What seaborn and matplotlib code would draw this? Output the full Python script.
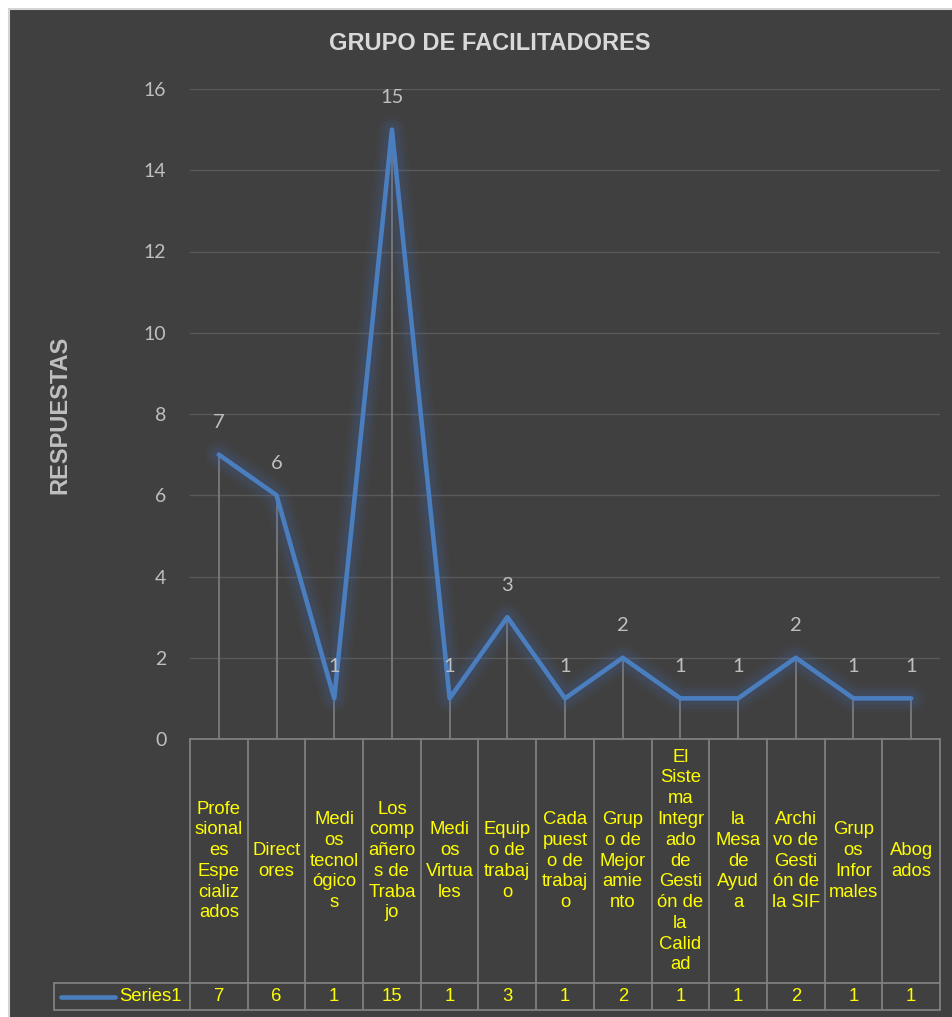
import numpy as np
import pandas as pd
import matplotlib
matplotlib.use("Agg")
import matplotlib.pyplot as plt
import matplotlib.patheffects as pe
from matplotlib.patches import Rectangle
from matplotlib.lines import Line2D
import seaborn as sns

# ---------------- data ----------------
categories = [
    "Profesionales Especializados", "Directores", "Medios tecnológicos",
    "Los compañeros de Trabajo", "Medios Virtuales", "Equipo de trabajo",
    "Cada puesto de trabajo", "Grupo de Mejoramiento",
    "El Sistema Integrado de Gestión de la Calidad", "la Mesa de Ayuda",
    "Archivo de Gestión de la SIF", "Grupos Informales", "Abogados",
]
wrapped_labels = [
    "Profe\nsional\nes\nEspe\ncializ\nados",
    "Direct\nores",
    "Medi\nos\ntecnol\nógico\ns",
    "Los\ncomp\nañero\ns de\nTraba\njo",
    "Medi\nos\nVirtua\nles",
    "Equip\no de\ntrabaj\no",
    "Cada\npuest\no de\ntrabaj\no",
    "Grup\no de\nMejor\namie\nnto",
    "El\nSiste\nma\nIntegr\nado\nde\nGesti\nón de\nla\nCalid\nad",
    "la\nMesa\nde\nAyud\na",
    "Archi\nvo de\nGesti\nón de\nla SIF",
    "Grup\nos\nInfor\nmales",
    "Abog\nados",
]
values = [7, 6, 1, 15, 1, 3, 1, 2, 1, 1, 2, 1, 1]
series_name = "Series1"
y_ticks = [0, 2, 4, 6, 8, 10, 12, 14, 16]
title = "GRUPO DE FACILITADORES"
y_label = "RESPUESTAS"

# ---------------- style ----------------
BG = "#404040"
GRID = "#595959"
TABLE = "#808080"
LINE = "#4a7ebf"
YELLOW = "#ffff00"
GRAY_TXT = "#bfbfbf"

sns.set_theme(style="dark", rc={"axes.facecolor": BG, "figure.facecolor": "white"})
plt.rcParams["font.family"] = ["Liberation Sans", "DejaVu Sans"]

W, H = 953, 1017
fig = plt.figure(figsize=(W / 100, H / 100), dpi=100)
fig.patches.append(Rectangle((9 / W, -0.05), 1.1, 1.05 - 9 / H, transform=fig.transFigure,
                             facecolor=BG, edgecolor="#d4d4d4", lw=1.5, zorder=-10))

x0, x1 = 190, 940
ytop, ybot = 89, 739
ax = fig.add_axes([x0 / W, 1 - ybot / H, (x1 - x0) / W, (ybot - ytop) / H])
ax.set_facecolor(BG)
for s in ax.spines.values():
    s.set_visible(False)

n = len(categories)
df = pd.DataFrame({"pos": np.arange(n), "value": values, "category": categories})

# gridlines
ax.set_ylim(0, 16)
ax.set_xlim(-0.5, n - 0.5)
ax.set_yticks(y_ticks)
ax.yaxis.grid(True, color=GRID, lw=1.0)
ax.xaxis.grid(False)
ax.set_axisbelow(True)

# drop lines
ax.vlines(df["pos"], 0, df["value"], color=TABLE, lw=1.2, zorder=2)

# line with glow
sns.lineplot(data=df, x="pos", y="value", color=LINE, lw=3.3, ax=ax, zorder=4,
             sort=False, legend=False)
ln = ax.lines[-1]
ln.set_solid_joinstyle("round")
ln.set_solid_capstyle("round")
ln.set_path_effects([
    pe.Stroke(linewidth=20, foreground="#4472c4", alpha=0.05),
    pe.Stroke(linewidth=15, foreground="#4472c4", alpha=0.07),
    pe.Stroke(linewidth=10, foreground="#4472c4", alpha=0.10),
    pe.Normal(),
])

# data labels
for p, v in zip(df["pos"], df["value"]):
    ax.annotate(str(v), (p, v), xytext=(0, 23), textcoords="offset points",
                ha="center", va="center", color=GRAY_TXT, fontsize=14.5,
                family=["Lato", "DejaVu Sans"], zorder=5)

ax.set_xticks([])
ax.set_xlabel("")
ax.set_ylabel("")
ax.tick_params(axis="y", length=0, pad=17, labelsize=14, labelcolor=GRAY_TXT)
for t in ax.get_yticklabels():
    t.set_family(["Lato", "DejaVu Sans"])

# ---------------- data table ----------------
axh = ybot - ytop
def ay(py):
    return (ybot - py) / axh
def axx(px):
    return (px - x0) / (x1 - x0)

y_cat_bot = ay(983)
y_val_bot = ay(1010)
legend_left = axx(54)
lk = dict(transform=ax.transAxes, color=TABLE, lw=1.3, clip_on=False, zorder=3)
ax.add_line(Line2D([0, 1], [0, 0], **lk))
ax.add_line(Line2D([legend_left, 1], [y_cat_bot, y_cat_bot], **lk))
ax.add_line(Line2D([legend_left, 1], [y_val_bot, y_val_bot], **lk))
ax.add_line(Line2D([legend_left, legend_left], [y_cat_bot, y_val_bot], **lk))
bt = ax.get_xaxis_transform()
for k in range(n + 1):
    ax.add_line(Line2D([k - 0.5, k - 0.5], [0, y_val_bot], transform=bt, color=TABLE,
                       lw=1.3, clip_on=False, zorder=3))

y_cat_mid = (0 + y_cat_bot) / 2
y_val_mid = (y_cat_bot + y_val_bot) / 2
for p, lab, v in zip(df["pos"], wrapped_labels, df["value"]):
    ax.text(p, y_cat_mid, lab, transform=bt, ha="center", va="center", color=YELLOW,
            fontsize=13.3, linespacing=1.29, clip_on=False)
    ax.text(p, y_val_mid, str(v), transform=bt, ha="center", va="center", color=YELLOW,
            fontsize=13.3, clip_on=False)

# legend key in table
ax.add_line(Line2D([axx(61), axx(115)], [y_val_mid, y_val_mid], transform=ax.transAxes,
                   color=LINE, lw=3.3, clip_on=False, solid_capstyle="round"))
ax.text(axx(119), y_val_mid, series_name, transform=ax.transAxes, ha="left", va="center",
        color=YELLOW, fontsize=13.3, clip_on=False)

# titles
fig.text(490 / W, 1 - 44 / H, title, ha="center", va="center", color="#d9d9d9",
         fontsize=17, fontweight="bold")
fig.text(60 / W, 1 - 415 / H, y_label, ha="center", va="center", color=GRAY_TXT,
         fontsize=17, fontweight="bold", rotation=90)

fig.savefig("out.png", dpi=100, facecolor="white")
